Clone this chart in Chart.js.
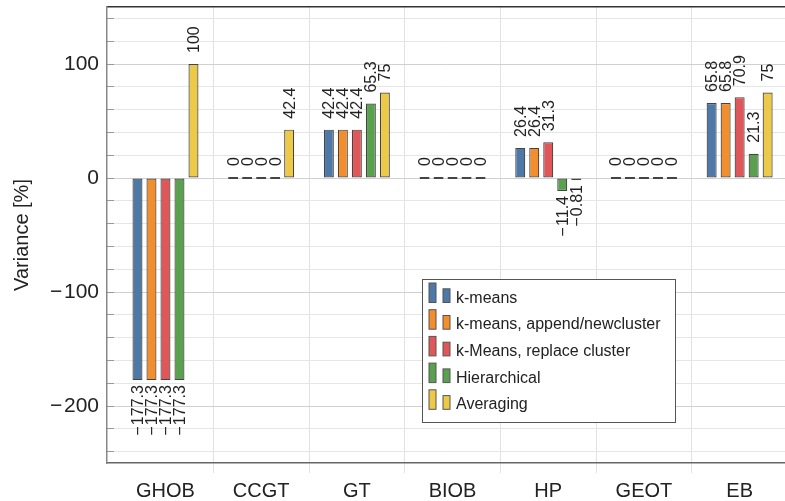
<!DOCTYPE html>
<html><head><meta charset="utf-8">
<script src="https://cdn.jsdelivr.net/npm/chart.js@4.4.1/dist/chart.umd.min.js"></script>
<style>html,body{margin:0;padding:0;background:#fff;overflow:hidden}#wrap{width:785px;height:501px;position:relative}</style>
</head><body><div id="wrap"><canvas id="c" width="785" height="501"></canvas></div>
<script>
const categories = ['GHOB', 'CCGT', 'GT', 'BIOB', 'HP', 'GEOT', 'EB'];
const seriesNames = ['k-means', 'k-means, append/newcluster', 'k-Means, replace cluster', 'Hierarchical', 'Averaging'];
const kMeans = [-177.3, 0, 42.4, 0, 26.4, 0, 65.8];
const kMeansAppend = [-177.3, 0, 42.4, 0, 26.4, 0, 65.8];
const kMeansReplace = [-177.3, 0, 42.4, 0, 31.3, 0, 70.9];
const hierarchical = [-177.3, 0, 65.3, 0, -11.4, 0, 21.3];
const averaging = [100, 42.4, 75, 0, -0.81, 0, 75];
const yTickLabels = [-200, -100, 0, 100];

const seriesValues = [kMeans, kMeansAppend, kMeansReplace, hierarchical, averaging];
const colors = ['#4e79a7', '#f28e2b', '#e15759', '#59a14f', '#edc948'];
const FAMILY = '"Liberation Sans", Arial, Helvetica, sans-serif';
const fmt = v => String(v).replace('-', '\u2212\u200a');
const fmtTick = v => String(v).replace('-', '\u2212\u200a');

Chart.defaults.font.family = FAMILY;
Chart.defaults.color = '#222';

const valueLabels = {
  id: 'valueLabels',
  afterDatasetsDraw(chart) {
    const ctx = chart.ctx;
    ctx.save();
    ctx.font = '16px ' + FAMILY;
    ctx.fillStyle = '#222';
    chart.data.datasets.forEach((ds, di) => {
      const meta = chart.getDatasetMeta(di);
      meta.data.forEach((bar, i) => {
        const v = ds.data[i].y;
        const p = bar.getProps(['x', 'y', 'base'], true);
        const top = Math.min(p.y, p.base), bottom = Math.max(p.y, p.base);
        ctx.save();
        ctx.translate(p.x, v >= 0 ? top - 11 : bottom + 5);
        ctx.rotate(-Math.PI / 2);
        ctx.textBaseline = 'middle';
        ctx.textAlign = v >= 0 ? 'left' : 'right';
        ctx.fillText(fmt(v), 0, 1);
        ctx.restore();
      });
    });
    ctx.restore();
  }
};

const boxLegend = {
  id: 'boxLegend',
  afterDraw(chart) {
    const ctx = chart.ctx;
    const x0 = 422, y0 = 279, w = 253, h = 143;
    ctx.save();
    ctx.fillStyle = '#fff';
    ctx.fillRect(x0, y0, w, h);
    ctx.strokeStyle = '#555';
    ctx.lineWidth = 1;
    ctx.strokeRect(x0 + 0.5, y0 + 0.5, w, h);
    ctx.font = '16px ' + FAMILY;
    ctx.textBaseline = 'alphabetic';
    ctx.textAlign = 'left';
    chart.data.datasets.forEach((ds, i) => {
      const base = 302.5 + 26.7 * i;
      ctx.fillStyle = ds.backgroundColor;
      ctx.strokeStyle = '#555';
      ctx.fillRect(429, base - 19.5, 7, 19.5);
      ctx.strokeRect(429, base - 19.5, 7, 19.5);
      ctx.fillRect(443, base - 13.7, 7, 13.7);
      ctx.strokeRect(443, base - 13.7, 7, 13.7);
      ctx.fillStyle = '#222';
      ctx.fillText(ds.label, 456, base);
    });
    ctx.restore();
  }
};

const XMIN = -0.611, XMAX = 6.474;
const noPad = s => { s.paddingTop = 0; s.paddingBottom = 0; s.paddingLeft = 0; s.paddingRight = 0; };

new Chart(document.getElementById('c'), {
  type: 'bar',
  data: {
    datasets: seriesValues.map((vals, k) => ({
      label: seriesNames[k],
      data: vals.map((v, i) => ({ x: i, y: v })),
      backgroundColor: colors[k],
      borderColor: '#444',
      borderWidth: 1.2,
      borderSkipped: false,
      minBarLength: 2,
      categoryPercentage: 1.463,
      barPercentage: 0.714,
      xAxisID: 'x',
      yAxisID: 'y'
    }))
  },
  options: {
    responsive: false,
    animation: false,
    devicePixelRatio: 1,
    layout: { padding: 0 },
    plugins: { legend: { display: false }, tooltip: { enabled: false } },
    scales: {
      x: {
        type: 'linear', position: 'bottom', min: XMIN, max: XMAX, offset: false,
        afterBuildTicks: s => { s.ticks = []; for (let k = 0; k <= 12; k++) s.ticks.push({ value: k / 2 }); },
        ticks: {
          autoSkip: false, maxRotation: 0, padding: 6,
          font: { size: 20 }, color: '#222',
          callback: v => Number.isInteger(v) ? categories[v] : ''
        },
        grid: {
          offset: false,
          color: c => (c.tick && c.tick.value % 1 !== 0) ? '#e2e2e2' : 'rgba(0,0,0,0)',
          tickColor: c => (c.tick && c.tick.value % 1 !== 0) ? '#e2e2e2' : 'rgba(0,0,0,0)',
          tickLength: 10, lineWidth: 1
        },
        border: { display: true, color: '#666', width: 1.5 },
        afterFit: s => { s.height = 38; noPad(s); }
      },
      xTop: {
        type: 'linear', position: 'top', min: XMIN, max: XMAX, offset: false,
        ticks: { display: false },
        grid: { display: false, drawTicks: false, offset: false },
        border: { display: true, color: '#333', width: 1.5 },
        afterFit: s => { s.height = 7; noPad(s); }
      },
      y: {
        type: 'linear', position: 'left', min: -250, max: 150,
        afterBuildTicks: s => { s.ticks = []; for (let v = -240; v <= 140; v += 20) s.ticks.push({ value: v }); },
        ticks: {
          autoSkip: false, padding: 15, font: { size: 21 }, color: '#222',
          callback: v => yTickLabels.includes(v) ? fmtTick(v) : ''
        },
        grid: {
          color: c => (c.tick && c.tick.value % 100 === 0) ? '#d0d0d0' : '#e6e6e6',
          tickColor: '#999',
          tickLength: -7, lineWidth: 1
        },
        border: { display: true, color: '#888', width: 1.5 },
        title: { display: true, text: 'Variance [%]', font: { size: 20 }, color: '#222', padding: { top: 10, bottom: 0 } },
        afterFit: s => { s.width = 107; noPad(s); }
      }
    }
  },
  plugins: [valueLabels, boxLegend]
});
</script>
</body></html>
